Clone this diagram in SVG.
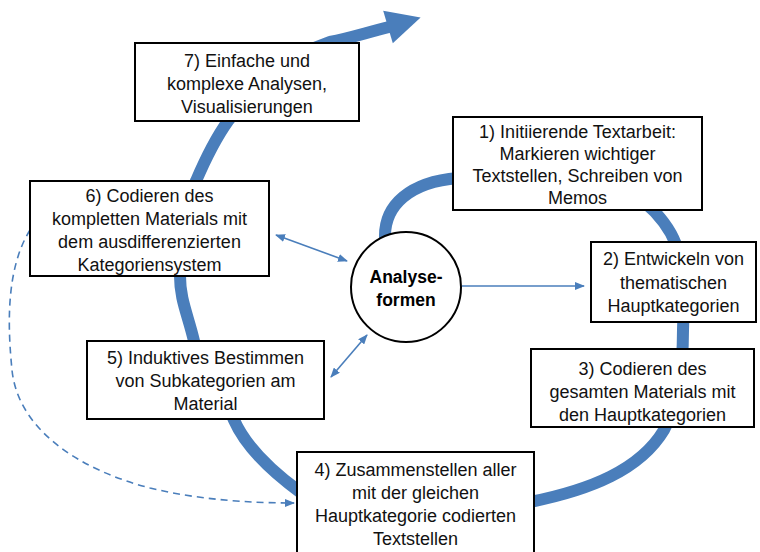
<svg xmlns="http://www.w3.org/2000/svg" width="760" height="552" viewBox="0 0 760 552">
  <style>
    .box { fill: #ffffff; stroke: #000000; stroke-width: 2; }
    .lbl { font-family: "Liberation Sans", Arial, sans-serif; font-size: 18px; fill: #111111; text-anchor: middle; }
    .bold { font-family: "Liberation Sans", Arial, sans-serif; font-size: 17.5px; font-weight: bold; fill: #000000; text-anchor: middle; }
    .spiral { fill: none; stroke: #4a7ebb; stroke-width: 12; stroke-linecap: butt; }
    .thin { fill: none; stroke: #4a7ebb; stroke-width: 1.6; }
    .dash { fill: none; stroke: #4a7ebb; stroke-width: 1.6; stroke-dasharray: 7 5; }
  </style>
  <defs>
    <marker id="tip" markerUnits="userSpaceOnUse" markerWidth="10" markerHeight="8" refX="9" refY="4" orient="auto-start-reverse">
      <path d="M0,0 L10,4 L0,8 z" fill="#4a7ebb"/>
    </marker>
  </defs>
  <rect width="760" height="552" fill="#ffffff"/>

  <g id="connectors">
    <!-- main process spiral, passing behind the boxes -->
    <path class="spiral" d="M 385 238 C 384 205, 410 182, 458 178
      C 560 170, 630 185, 655 212
      C 668 226, 676 240, 679 255
      C 684 280, 684 300, 683 330
      C 683 360, 680 400, 664 430
      C 640 470, 590 490, 530 502
      C 450 520, 340 520, 300 492
      C 270 470, 245 445, 234 420
      C 222 390, 200 370, 194 341
      C 188 315, 180 300, 180 276
      C 180 240, 185 205, 196 181
      C 205 160, 218 135, 228 121
      C 250 90, 290 55, 330 42
      C 350 38, 365 33, 389 27"/>
    <polygon points="392.8,43.3 383.2,10.7 420.6,17.5" fill="#4a7ebb"/>
    <!-- links to the analysis hub -->
    <line class="thin" x1="462" y1="286" x2="584" y2="286" marker-end="url(#tip)"/>
    <line class="thin" x1="276" y1="235" x2="347" y2="261" marker-start="url(#tip)" marker-end="url(#tip)"/>
    <line class="thin" x1="331" y1="377" x2="367" y2="335" marker-start="url(#tip)" marker-end="url(#tip)"/>
    <!-- feedback loop from step 6 back to step 4 -->
    <path class="dash" d="M 30 230 C 5 270, 8 330, 12 370 C 18 430, 80 470, 150 488 C 200 500, 250 503, 294 503" marker-end="url(#tip)"/>
  </g>

  <g id="hub">
    <circle cx="406" cy="287" r="55" fill="#ffffff" stroke="#000000" stroke-width="2"/>
    <text class="bold" x="406" y="283">Analyse-</text>
    <text class="bold" x="406" y="306">formen</text>
  </g>

  <g id="step1">
    <rect class="box" x="453" y="117" width="249" height="93"/>
    <text class="lbl" x="577.5" y="138">1) Initiierende Textarbeit:</text>
    <text class="lbl" x="577.5" y="160">Markieren wichtiger</text>
    <text class="lbl" x="577.5" y="182">Textstellen, Schreiben von</text>
    <text class="lbl" x="577.5" y="204">Memos</text>
  </g>

  <g id="step2">
    <rect class="box" x="591" y="242" width="165" height="80"/>
    <text class="lbl" x="673.5" y="265">2) Entwickeln von</text>
    <text class="lbl" x="673.5" y="288.5">thematischen</text>
    <text class="lbl" x="673.5" y="312">Hauptkategorien</text>
  </g>

  <g id="step3">
    <rect class="box" x="531" y="349" width="223" height="78"/>
    <text class="lbl" x="642.5" y="375">3) Codieren des</text>
    <text class="lbl" x="642.5" y="398">gesamten Materials mit</text>
    <text class="lbl" x="642.5" y="421">den Hauptkategorien</text>
  </g>

  <g id="step4">
    <rect class="box" x="297" y="452" width="237" height="110"/>
    <text class="lbl" x="415.5" y="476">4) Zusammenstellen aller</text>
    <text class="lbl" x="415.5" y="499">mit der gleichen</text>
    <text class="lbl" x="415.5" y="522">Hauptkategorie codierten</text>
    <text class="lbl" x="415.5" y="545">Textstellen</text>
  </g>

  <g id="step5">
    <rect class="box" x="87" y="341" width="237" height="78"/>
    <text class="lbl" x="205.5" y="364">5) Induktives Bestimmen</text>
    <text class="lbl" x="205.5" y="387">von Subkategorien am</text>
    <text class="lbl" x="205.5" y="410">Material</text>
  </g>

  <g id="step6">
    <rect class="box" x="30" y="181" width="239" height="95"/>
    <text class="lbl" x="149.5" y="202">6) Codieren des</text>
    <text class="lbl" x="149.5" y="225">kompletten Materials mit</text>
    <text class="lbl" x="149.5" y="248">dem ausdifferenzierten</text>
    <text class="lbl" x="149.5" y="271">Kategoriensystem</text>
  </g>

  <g id="step7">
    <rect class="box" x="135" y="43" width="224" height="78"/>
    <text class="lbl" x="247" y="67">7) Einfache und</text>
    <text class="lbl" x="247" y="90">komplexe Analysen,</text>
    <text class="lbl" x="247" y="113">Visualisierungen</text>
  </g>
</svg>
